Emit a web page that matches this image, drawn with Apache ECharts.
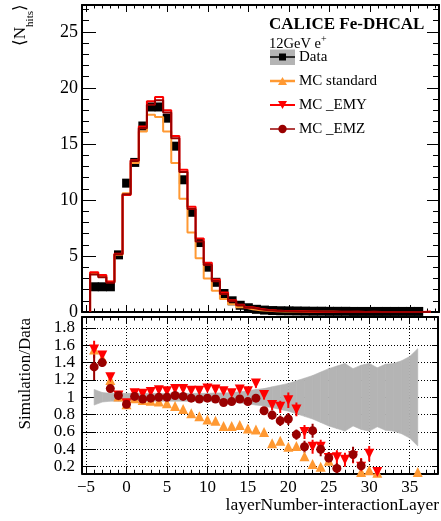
<!DOCTYPE html>
<html>
<head>
<meta charset="utf-8">
<script src="https://cdn.jsdelivr.net/npm/echarts@6/dist/echarts.min.js"></script>
<style>
  html, body { margin: 0; padding: 0; background: #fff; }
  #chart { width: 441px; height: 521px; }
</style>
</head>
<body>
<div id="chart"></div>
<script>
// layer number relative to the interaction layer (bin centres)
const layers = [-4, -3, -2, -1, 0, 1, 2, 3, 4, 5, 6, 7, 8, 9, 10, 11, 12, 13, 14, 15, 16, 17, 18, 19, 20,
  21, 22, 23, 24, 25, 26, 27, 28, 29, 30, 31, 32, 33, 34, 35, 36, 37];

// <N_hits> per layer
const dataHits = [2.25, 2.25, 2.25, 5.1, 11.5, 13.35, 16.6, 18.3, 18.3, 17.3,
  14.8, 11.8, 8.9, 6.2, 4.0, 2.65, 1.65, 1.0, 0.6, 0.38,
  0.24, 0.17, 0.13, 0.11, 0.1, 0.09, 0.08, 0.07, 0.07, 0.06,
  0.06, 0.06, 0.05, 0.05, 0.05, 0.05, 0.05, 0.05, 0.05, 0.05,
  0.05, null];
const mcStd = [3.45, 3.2, 2.7, 5.1, 10.6, 13.3, 16.1, 17.6, 17.4, 16.1,
  13.3, 10.1, 7.1, 4.8, 3.0, 1.9, 1.15, 0.7, 0.42, 0.25,
  0.16, 0.11, 0.07, 0.05, 0.04, 0.04, 0.03, 0.02, 0.02, 0.02,
  0.01, 0.01, 0.01, 0.01, 0.01, 0.01, 0.01, 0.01, 0.01, 0.01,
  0.01, 0];
const mcEmy = [3.55, 3.3, 2.72, 5.2, 10.45, 13.55, 16.55, 18.8, 19.2, 18.0,
  15.7, 12.7, 9.4, 6.55, 4.4, 2.9, 1.75, 1.05, 0.65, 0.42,
  0.29, 0.18, 0.13, 0.1, 0.09, 0.07, 0.05, 0.03, 0.03, 0.02,
  0.02, 0.02, 0.02, 0.01, 0.02, 0.01, 0.01, 0.01, 0.01, 0.01,
  0.01, 0.05];
const mcEmz = [3.35, 3.1, 2.6, 5.15, 10.5, 13.5, 16.4, 18.5, 18.9, 17.8,
  15.5, 12.5, 9.2, 6.3, 4.2, 2.75, 1.6, 0.95, 0.6, 0.37,
  0.25, 0.15, 0.11, 0.08, 0.07, 0.05, 0.04, 0.04, 0.03, 0.02,
  0.01, 0.01, 0.02, 0.01, 0.01, 0, 0, 0, 0, 0,
  0, 0];

// Simulation / Data
const ratioStd = [1.55, 1.45, 1.2, 1.01, 0.92, 0.99, 0.97, 0.96, 0.95, 0.93,
  0.9, 0.865, 0.815, 0.78, 0.745, 0.73, 0.67, 0.67, 0.68, 0.64,
  0.63, 0.6, 0.47, 0.5, 0.43, 0.44, 0.32, 0.23, 0.2, 0.27,
  null, null, null, 0.14, 0.16, 0.13, null, null, null, null,
  0.14, null];
const ratioEmy = [1.55, 1.48, 1.23, 1.02, 0.93, 1.045, 1.04, 1.06, 1.08, 1.07,
  1.095, 1.095, 1.075, 1.075, 1.1, 1.09, 1.07, 1.045, 1.09, 1.07,
  1.16, 1.025, 0.91, 0.89, 0.965, 0.86, 0.6, 0.43, 0.43, 0.3,
  0.31, 0.28, 0.32, 0.2, 0.35, 0.14, null, null, null, null,
  null, null];
const ratioEmz = [1.35, 1.4, 1.1, 1.02, 0.92, 1.01, 0.98, 0.99, 1.0, 1.0,
  1.02, 1.01, 0.99, 0.98, 0.99, 0.98, 0.94, 0.95, 0.98, 0.95,
  0.99, 0.845, 0.795, 0.73, 0.75, 0.57, 0.43, 0.615, 0.4, 0.3,
  0.18, null, 0.34, 0.21, null, null, null, null, null, null,
  null, null];
const errEmy = [0.1, 0.05, 0.03, 0.02, 0.02, 0.02, 0.02, 0.02, 0.02, 0.02,
  0.02, 0.02, 0.02, 0.02, 0.02, 0.02, 0.02, 0.02, 0.02, 0.02,
  0.05, 0.05, 0.06, 0.07, 0.09, 0.08, 0.08, 0.08, 0.08, 0.07,
  0.08, 0.08, 0.08, 0.1, 0.09, 0.05, null, null, null, null,
  null, null];
const errEmz = [0.15, 0.05, 0.03, 0.02, 0.02, 0.02, 0.02, 0.02, 0.02, 0.02,
  0.02, 0.02, 0.02, 0.02, 0.02, 0.02, 0.02, 0.02, 0.02, 0.02,
  0.02, 0.04, 0.05, 0.06, 0.07, 0.06, 0.07, 0.08, 0.08, 0.07,
  0.06, null, 0.09, 0.08, null, null, null, null, null, null,
  null, null];
// relative data uncertainty (grey band around 1)
const errData = [0.09, 0.055, 0.045, 0.045, 0.045, 0.045, 0.045, 0.045, 0.045, 0.045,
  0.045, 0.045, 0.045, 0.045, 0.045, 0.05, 0.05, 0.055, 0.065, 0.075,
  0.09, 0.1, 0.12, 0.14, 0.16, 0.19, 0.22, 0.25, 0.29, 0.33,
  0.36, 0.39, 0.33, 0.37, 0.39, 0.34, 0.38, 0.39, 0.42, 0.47,
  0.56, null];

const FONT = 'Liberation Serif';
const C_STD = '#ff9933', C_EMY = '#ff0000', C_EMZ = '#990000', C_BAND = '#b4b4b4';

// histogram outline: left bin edges, stepped with 'end'
function histSteps(vals) {
  const pts = [[layers[0] - 0.5, 0]];
  let last = 0;
  vals.forEach((v, i) => { if (v != null) { pts.push([layers[i] - 0.5, v]); last = i; } });
  pts.push([layers[last] + 0.5, 0]);
  return pts;
}
function points(vals) {
  return vals.map((v, i) => v == null ? null : [layers[i], v]).filter(p => p);
}
function errBars(vals, errs) {
  return vals.map((v, i) => (v == null || errs[i] == null) ? null : [layers[i], v - errs[i], v + errs[i]]).filter(p => p);
}
function bandPieces() {
  const out = [];
  for (let i = 0; i + 1 < layers.length; i++) {
    if (errData[i] == null || errData[i + 1] == null) continue;
    out.push([layers[i], 1 - errData[i], 1 + errData[i], layers[i + 1], 1 - errData[i + 1], 1 + errData[i + 1]]);
  }
  return out;
}

const isMult = (v, s) => Math.abs(v / s - Math.round(v / s)) < 1e-6;
const black = { color: '#000', width: 1 };

function xAx(grid, pos, labels, grid2) {
  return {
    type: 'value', gridIndex: grid, position: pos, min: -5.5, max: 38.5, splitNumber: 9,
    axisLine: { show: true, onZero: false, lineStyle: { color: '#000', width: 2 } },
    axisTick: { show: true, inside: true, length: 7, lineStyle: black },
    minorTick: { show: true, splitNumber: 5, length: 3.5, lineStyle: black },
    axisLabel: labels ? {
      show: true, margin: 6, color: '#000', fontFamily: FONT, fontSize: 17,
      formatter: v => isMult(v, 5) ? (v < 0 ? '\u2212' + (-v) : String(v)) : ''
    } : { show: false },
    splitLine: { show: !!grid2, lineStyle: { color: '#000', width: 1, type: [1, 2] } }
  };
}
function yTop(pos) {
  return {
    type: 'value', gridIndex: 0, position: pos, min: 0, max: 27.4, splitNumber: 6,
    axisLine: { show: true, onZero: false, lineStyle: { color: '#000', width: 2 } },
    axisTick: { show: true, inside: true, length: pos === 'left' ? 14 : 12, lineStyle: black },
    minorTick: { show: true, splitNumber: 5, length: pos === 'left' ? 7 : 6, lineStyle: black },
    axisLabel: pos === 'left' ? {
      show: true, margin: 4, color: '#000', fontFamily: FONT, fontSize: 18,
      formatter: v => isMult(v, 5) ? String(Math.round(v)) : ''
    } : { show: false },
    splitLine: { show: false }
  };
}
function yRatio(pos) {
  return {
    type: 'value', gridIndex: 1, position: pos, min: 0.124, max: 1.925, splitNumber: 8,
    axisLine: { show: true, onZero: false, lineStyle: { color: '#000', width: 2 } },
    axisTick: { show: true, inside: true, length: pos === 'left' ? 14 : 6, lineStyle: black },
    axisLabel: pos === 'left' ? {
      show: true, margin: 7, color: '#000', fontFamily: FONT, fontSize: 17,
      formatter: v => isMult(v, 0.2) ? String(Math.round(v * 10) / 10) : ''
    } : { show: false },
    splitLine: { show: pos === 'left', lineStyle: { color: '#000', width: 1, type: [1, 2] } }
  };
}

function errSeries(name, vals, errs, color) {
  return {
    name, type: 'custom', xAxisIndex: 2, yAxisIndex: 2, clip: true,
    dimensions: ['x', 'lo', 'hi'], encode: { x: 0, y: [1, 2] },
    data: errBars(vals, errs),
    renderItem: (params, api) => {
      const a = api.coord([api.value(0), api.value(1)]);
      const b = api.coord([api.value(0), api.value(2)]);
      return { type: 'line', shape: { x1: a[0], y1: a[1], x2: b[0], y2: b[1] }, style: { stroke: color, lineWidth: 2 } };
    }
  };
}
function histSeries(name, vals, color) {
  return {
    name, type: 'line', xAxisIndex: 0, yAxisIndex: 0, step: 'end', symbol: 'none',
    data: histSteps(vals), lineStyle: { color, width: 2 }
  };
}
function ratioSeries(name, vals, color, symbol, rotate, size) {
  return {
    name, type: 'scatter', xAxisIndex: 2, yAxisIndex: 2, symbol, symbolRotate: rotate,
    symbolSize: size, itemStyle: { color, opacity: 1 }, data: points(vals)
  };
}

function txt(x, y, text, size, extra) {
  return Object.assign({
    type: 'text', x, y,
    style: { text, fill: '#000', fontFamily: FONT, fontSize: size, align: 'left', textAlign: 'left',
      verticalAlign: 'middle', textVerticalAlign: 'middle' }
  }, extra || {});
}

const legendRows = [
  { label: 'Data', y: 57 },
  { label: 'MC standard', y: 81 },
  { label: 'MC _EMY', y: 105 },
  { label: 'MC _EMZ', y: 129 }
];
const LX0 = 270, LX1 = 295, LXC = 282.5;

const graphic = [
  // axis titles
  { type: 'text', x: 24, y: 4, rotation: Math.PI / 2,
    style: { text: '{a|\u27E8N}{b|hits}{a|\u27E9}', align: 'right', textAlign: 'right',
      verticalAlign: 'middle', textVerticalAlign: 'middle',
      rich: {
        a: { fontFamily: FONT, fontSize: 17, fill: '#000', lineHeight: 24, verticalAlign: 'top' },
        b: { fontFamily: FONT, fontSize: 11, fill: '#000', lineHeight: 12, verticalAlign: 'bottom' }
      } } },
  { type: 'text', x: 26, y: 318, rotation: Math.PI / 2,
    style: { text: 'Simulation/Data', fill: '#000', fontFamily: FONT, fontSize: 17,
      align: 'right', textAlign: 'right', verticalAlign: 'middle', textVerticalAlign: 'middle' } },
  { type: 'text', x: 439, y: 505,
    style: { text: 'layerNumber-interactionLayer', fill: '#000', fontFamily: FONT, fontSize: 17.5,
      align: 'right', textAlign: 'right', verticalAlign: 'middle', textVerticalAlign: 'middle' } },
  // labels
  { type: 'text', x: 269, y: 25,
    style: { text: 'CALICE Fe-DHCAL', fill: '#000', fontFamily: FONT, fontSize: 17, fontWeight: 'bold',
      align: 'left', textAlign: 'left', verticalAlign: 'middle', textVerticalAlign: 'middle' } },
  { type: 'text', x: 269, y: 43,
    style: { text: '{a|12GeV e}{s|+}', align: 'left', textAlign: 'left', verticalAlign: 'middle', textVerticalAlign: 'middle',
      rich: {
        a: { fontFamily: FONT, fontSize: 14.5, fill: '#000', lineHeight: 18, verticalAlign: 'bottom' },
        s: { fontFamily: FONT, fontSize: 10, fill: '#000', lineHeight: 18, verticalAlign: 'top' }
      } } },
  // legend: Data
  { type: 'rect', shape: { x: LX0, y: 49.5, width: LX1 - LX0, height: 15.5 }, style: { fill: C_BAND } },
  { type: 'line', shape: { x1: LX0, y1: 57, x2: LX1, y2: 57 }, style: { stroke: '#000', lineWidth: 1.5 } },
  { type: 'rect', shape: { x: LXC - 3.5, y: 53.5, width: 7, height: 7 }, style: { fill: '#000' } },
  // legend: MC standard
  { type: 'line', shape: { x1: LX0, y1: 81, x2: LX1, y2: 81 }, style: { stroke: C_STD, lineWidth: 2.5 } },
  { type: 'polygon', shape: { points: [[LXC, 77], [LXC - 4.5, 85], [LXC + 4.5, 85]] }, style: { fill: C_STD } },
  // legend: MC _EMY
  { type: 'line', shape: { x1: LX0, y1: 105, x2: LX1, y2: 105 }, style: { stroke: C_EMY, lineWidth: 2 } },
  { type: 'polygon', shape: { points: [[LXC, 109], [LXC - 4.5, 101], [LXC + 4.5, 101]] }, style: { fill: C_EMY } },
  // legend: MC _EMZ
  { type: 'line', shape: { x1: LX0, y1: 129, x2: LX1, y2: 129 }, style: { stroke: C_EMZ, lineWidth: 1.5 } },
  { type: 'circle', shape: { cx: LXC, cy: 129, r: 4.2 }, style: { fill: C_EMZ } }
].concat(legendRows.map(r => txt(299, r.y, r.label, 15)));

const chart = echarts.init(document.getElementById('chart'), null, { renderer: 'canvas' });
chart.setOption({
  animation: false,
  backgroundColor: '#fff',
  grid: [
    { left: 82, top: 5, width: 357, height: 307 },
    { left: 82, top: 317, width: 357, height: 156.3 }
  ],
  xAxis: [xAx(0, 'bottom', false), xAx(0, 'top', false), xAx(1, 'bottom', true, true), xAx(1, 'top', false)],
  yAxis: [yTop('left'), yTop('right'), yRatio('left'), yRatio('right')],
  series: [
    histSeries('MC standard', mcStd, C_STD),
    histSeries('MC _EMY', mcEmy, C_EMY),
    histSeries('MC _EMZ', mcEmz, C_EMZ),
    { name: 'Data', type: 'scatter', xAxisIndex: 0, yAxisIndex: 0, symbol: 'rect', symbolSize: 9,
      itemStyle: { color: '#000', opacity: 1 }, data: points(dataHits) },
    {
      name: 'Data unc.', type: 'custom', xAxisIndex: 2, yAxisIndex: 2, clip: true,
      dimensions: ['x0', 'lo0', 'hi0', 'x1', 'lo1', 'hi1'], encode: { x: [0, 3], y: [1, 2, 4, 5] },
      data: bandPieces(),
      renderItem: (params, api) => {
        const pts = [
          api.coord([api.value(0), api.value(2)]), api.coord([api.value(3), api.value(5)]),
          api.coord([api.value(3), api.value(4)]), api.coord([api.value(0), api.value(1)])
        ];
        return { type: 'polygon', shape: { points: pts }, style: { fill: C_BAND, stroke: C_BAND, lineWidth: 0.6 } };
      }
    },
    ratioSeries('MC standard ratio', ratioStd, C_STD, 'triangle', 0, 10),
    errSeries('MC _EMY err', ratioEmy, errEmy, C_EMY),
    ratioSeries('MC _EMY ratio', ratioEmy, C_EMY, 'triangle', 180, 10),
    errSeries('MC _EMZ err', ratioEmz, errEmz, C_EMZ),
    ratioSeries('MC _EMZ ratio', ratioEmz, C_EMZ, 'circle', 0, 9)
  ],
  graphic
});
</script>
</body>
</html>
